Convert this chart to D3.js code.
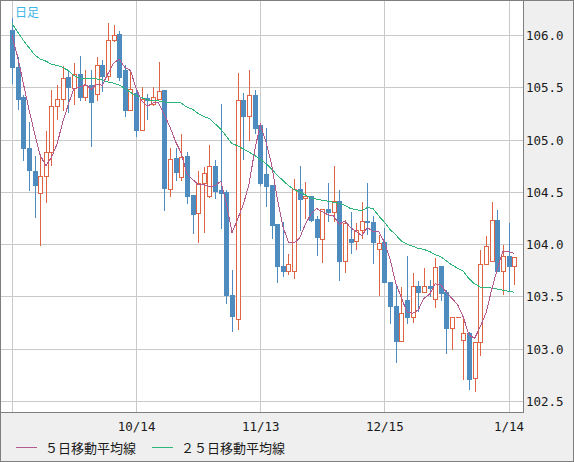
<!DOCTYPE html>
<html><head><meta charset="utf-8">
<script src="https://cdn.jsdelivr.net/npm/d3@7"></script>
<style>
html,body{margin:0;padding:0;background:#fff;}
svg{display:block;}
</style></head>
<body>
<svg id="chart" width="574" height="462"></svg>
<script>
// trading days (2020-09-14 .. 2021-01-15)
const dates = ["9/14","9/15","9/16","9/17","9/18","9/21","9/22","9/23","9/24","9/25","9/28","9/29","9/30",
"10/1","10/2","10/5","10/6","10/7","10/8","10/9","10/12","10/13","10/14","10/15","10/16","10/19","10/20","10/21","10/22","10/23","10/26","10/27","10/28","10/29","10/30",
"11/2","11/3","11/4","11/5","11/6","11/9","11/10","11/11","11/12","11/13","11/16","11/17","11/18","11/19","11/20","11/23","11/24","11/25","11/26","11/27","11/30",
"12/1","12/2","12/3","12/4","12/7","12/8","12/9","12/10","12/11","12/14","12/15","12/16","12/17","12/18","12/21","12/22","12/23","12/24","12/25","12/28","12/29","12/30","12/31",
"1/1","1/4","1/5","1/6","1/7","1/8","1/11","1/12","1/13","1/14","1/15"];

const open = [106.05,105.69,105.41,104.92,104.70,104.49,104.65,104.88,105.32,105.39,105.60,105.49,105.63,105.41,105.52,105.44,105.71,105.61,105.95,106.01,
105.67,105.28,105.45,105.09,105.40,105.34,105.39,105.47,104.53,104.82,104.64,104.84,104.47,104.30,104.58,104.46,104.75,104.52,104.50,103.51,
103.28,105.38,105.23,105.43,105.14,104.67,104.57,104.19,103.79,103.74,103.74,104.53,104.44,104.46,104.24,104.05,104.34,104.31,104.41,103.84,
104.05,104.03,104.14,104.22,104.21,103.95,104.02,103.64,103.41,103.07,103.47,103.30,103.60,103.54,103.60,103.48,103.79,103.54,103.20,103.30,
103.08,103.15,102.72,103.06,103.81,103.84,104.23,103.74,103.89,103.79];
const high = [106.16,105.79,105.43,105.17,104.84,104.84,105.08,105.47,105.52,105.70,105.67,105.73,105.80,105.67,105.67,105.79,105.76,106.11,106.10,106.04,
105.71,105.67,105.49,105.50,105.44,105.50,105.74,105.47,104.92,104.92,105.05,104.88,104.47,104.70,104.74,104.95,104.80,105.34,104.52,103.75,
105.64,105.45,105.67,105.47,105.15,105.11,104.57,104.19,104.21,103.91,104.62,104.75,104.59,104.46,104.27,104.34,104.58,104.75,104.52,104.23,
104.31,104.20,104.40,104.58,104.27,104.09,104.15,103.64,103.60,103.59,103.89,103.72,103.65,103.77,103.66,103.87,103.79,103.56,103.30,103.30,
103.31,103.16,103.06,103.94,104.08,104.40,104.33,103.99,104.20,103.88];
const low = [105.54,105.29,104.80,104.52,104.26,103.99,104.40,104.76,105.20,105.28,105.26,105.34,105.38,105.38,104.94,105.38,105.46,105.57,105.94,105.57,
105.23,105.28,105.03,105.09,105.20,105.33,105.39,104.33,104.46,104.61,104.61,104.39,104.11,104.02,104.12,104.45,104.44,104.15,103.44,103.17,
103.19,104.81,105.00,105.06,104.57,104.36,104.06,103.64,103.70,103.71,103.68,104.14,104.25,104.22,103.90,103.83,104.22,104.22,103.66,103.73,
103.92,103.95,104.06,104.10,103.82,103.51,103.64,103.25,102.87,103.07,103.25,103.26,103.36,103.54,103.50,103.40,103.47,102.96,103.00,103.30,
102.71,102.61,102.60,102.94,103.81,103.84,103.74,103.52,103.55,103.62];
const close = [105.69,105.39,104.92,104.71,104.57,104.65,104.88,105.32,105.39,105.59,105.50,105.63,105.41,105.52,105.36,105.71,105.61,105.95,106.00,105.60,
105.28,105.48,105.09,105.39,105.38,105.41,105.46,104.54,104.81,104.69,104.83,104.46,104.29,104.58,104.68,104.75,104.51,104.49,103.51,103.31,
105.38,105.23,105.43,105.11,104.58,104.56,104.18,103.79,103.74,103.81,104.53,104.43,104.46,104.23,104.07,104.34,104.31,104.41,103.84,104.20,
104.02,104.14,104.22,104.21,104.02,104.01,103.64,103.41,103.07,103.34,103.30,103.60,103.54,103.60,103.58,103.78,103.53,103.20,103.30,103.30,
103.15,102.71,103.06,103.81,103.98,104.23,103.74,103.89,103.79,103.88];

// moving averages
const ma5 = [106.00,105.79,105.54,105.29,105.06,104.85,104.75,104.83,104.96,105.17,105.34,105.49,105.50,105.53,105.48,105.53,105.52,105.63,105.73,105.77,
105.69,105.66,105.49,105.37,105.32,105.35,105.35,105.24,105.12,104.98,104.87,104.67,104.62,104.57,104.57,104.55,104.56,104.60,104.39,104.11,
104.24,104.38,104.57,104.89,105.15,104.98,104.77,104.44,104.17,104.02,104.01,104.06,104.19,104.29,104.34,104.31,104.28,104.27,104.19,104.22,
104.16,104.12,104.08,104.16,104.12,104.12,104.02,103.86,103.63,103.49,103.35,103.34,103.37,103.48,103.52,103.62,103.61,103.54,103.48,103.42,
103.30,103.13,103.10,103.21,103.34,103.56,103.76,103.93,103.93,103.91];
const ma25 = [106.11,106.03,105.95,105.88,105.81,105.77,105.75,105.72,105.71,105.69,105.66,105.61,105.59,105.58,105.58,105.58,105.57,105.55,105.54,105.52,
105.49,105.45,105.42,105.40,105.38,105.37,105.37,105.36,105.35,105.35,105.35,105.31,105.29,105.25,105.22,105.20,105.15,105.10,105.03,104.96,
104.94,104.91,104.88,104.85,104.81,104.77,104.72,104.66,104.61,104.56,104.52,104.50,104.47,104.44,104.43,104.42,104.41,104.40,104.39,104.37,
104.34,104.33,104.32,104.35,104.34,104.27,104.21,104.14,104.09,104.03,104.00,103.98,103.96,103.95,103.93,103.90,103.88,103.84,103.80,103.77,
103.74,103.67,103.62,103.59,103.59,103.58,103.57,103.56,103.55,103.54];

const yTicks = [102.5,103.0,103.5,104.0,104.5,105.0,105.5,106.0];
const xTickDates = ["9/14","10/14","11/13","12/15","1/14"];
const xLabelDates = ["10/14","11/13","12/15","1/14"];
const legendLabels = ["５日移動平均線","２５日移動平均線"];
const titleText = "日足";

const C = {red:"#df6444", blue:"#4e8cc0", ma5:"#b4598e", ma25:"#2db57a", grid:"#c9c9c9", frame:"#7f7f7f", bg:"#efefef", text:"#1a1a1a", title:"#3db6e8"};
const plot = {l:1, t:1, r:523, b:412};

const svg = d3.select("#chart");
svg.append("rect").attr("x",0.5).attr("y",0.5).attr("width",573).attr("height",461)
  .attr("fill",C.bg).attr("stroke",C.frame);
svg.append("rect").attr("x",plot.l).attr("y",plot.t).attr("width",plot.r-plot.l).attr("height",plot.b-plot.t).attr("fill","#fff");

const x = d3.scaleLinear().domain([0,88]).range([12,508.5]);
const y = d3.scaleLinear().domain([102.5,106.0]).range([401,35]);

svg.append("defs").append("clipPath").attr("id","pc").append("rect")
  .attr("x",plot.l).attr("y",plot.t).attr("width",plot.r-plot.l).attr("height",plot.b-plot.t);

const g = svg.append("g").attr("clip-path","url(#pc)");

// grid
g.selectAll("line.hg").data(yTicks).join("line").attr("class","hg")
  .attr("x1",plot.l).attr("x2",plot.r)
  .attr("y1",d=>Math.round(y(d))+0.5).attr("y2",d=>Math.round(y(d))+0.5)
  .attr("stroke",C.grid).attr("stroke-width",1);
g.selectAll("line.vg").data(xTickDates).join("line").attr("class","vg")
  .attr("y1",plot.t).attr("y2",plot.b)
  .attr("x1",d=>Math.round(x(dates.indexOf(d)))+0.5).attr("x2",d=>Math.round(x(dates.indexOf(d)))+0.5)
  .attr("stroke",C.grid).attr("stroke-width",1);

// candles
const idx = d3.range(dates.length);
const cg = g.append("g");
const cand = cg.selectAll("g.c").data(idx).join("g").attr("class","c");
cand.append("line")
  .attr("x1",i=>Math.round(x(i))+0.5).attr("x2",i=>Math.round(x(i))+0.5)
  .attr("y1",i=>Math.round(y(high[i]))).attr("y2",i=>Math.round(y(low[i]))+1)
  .attr("stroke",i=>close[i]>=open[i]?C.red:C.blue).attr("stroke-width",1)
  .attr("shape-rendering","crispEdges");
cand.each(function(i){
  const sel = d3.select(this);
  const top = Math.round(y(Math.max(open[i],close[i])));
  const bot = Math.round(y(Math.min(open[i],close[i])));
  const cx = Math.round(x(i));
  if (close[i] >= open[i]) {
    if (bot - top < 2) {
      sel.append("rect").attr("x",cx-2).attr("y",top).attr("width",5).attr("height",Math.max(1,bot-top+1))
        .attr("fill",C.red).attr("shape-rendering","crispEdges");
    } else {
      sel.append("rect").attr("x",cx-1.5).attr("y",top+0.5).attr("width",4).attr("height",bot-top)
        .attr("fill","#fff").attr("stroke",C.red).attr("stroke-width",1).attr("shape-rendering","crispEdges");
    }
  } else {
    sel.append("rect").attr("x",cx-2).attr("y",top).attr("width",5).attr("height",Math.max(1,bot-top+1))
      .attr("fill",C.blue).attr("shape-rendering","crispEdges");
  }
});

// moving averages
const line = arr => d3.line().x((d,i)=>x(i)).y(d=>y(d))(arr);
g.append("path").attr("d",line(ma25)).attr("fill","none").attr("stroke",C.ma25).attr("stroke-width",1).attr("shape-rendering","crispEdges");
g.append("path").attr("d",line(ma5)).attr("fill","none").attr("stroke",C.ma5).attr("stroke-width",1).attr("shape-rendering","crispEdges");

// frame of plot
svg.append("line").attr("x1",plot.r+0.5).attr("x2",plot.r+0.5).attr("y1",0).attr("y2",plot.b+1).attr("stroke",C.frame);
svg.append("line").attr("x1",0).attr("x2",plot.r+1).attr("y1",plot.b+0.5).attr("y2",plot.b+0.5).attr("stroke",C.frame);

// title
svg.append("text").attr("x",15).attr("y",11).attr("dominant-baseline","central")
  .attr("font-family","'Noto Sans CJK JP'").attr("font-size",12).attr("fill",C.title).text(titleText);

// y labels
svg.selectAll("text.yl").data(yTicks).join("text").attr("class","yl")
  .attr("x",526).attr("y",d=>y(d)+0.5).attr("dominant-baseline","central")
  .attr("font-family","'DejaVu Sans Mono'").attr("font-size",12.5).attr("fill",C.text)
  .text(d=>d3.format(".1f")(d));

// x labels
svg.selectAll("text.xl").data(xLabelDates).join("text").attr("class","xl")
  .attr("x",d=>x(dates.indexOf(d))+0.5).attr("y",426).attr("dominant-baseline","central").attr("text-anchor","middle")
  .attr("font-family","'DejaVu Sans Mono'").attr("font-size",12.5).attr("fill",C.text).text(d=>d);

// legend
const lg = [{t:legendLabels[0],c:C.ma5,x:16},{t:legendLabels[1],c:C.ma25,x:152}];
const leg = svg.selectAll("g.lg").data(lg).join("g").attr("class","lg");
leg.append("line").attr("x1",d=>d.x).attr("x2",d=>d.x+21).attr("y1",447.5).attr("y2",447.5).attr("stroke",d=>d.c);
leg.append("text").attr("x",d=>d.x+29).attr("y",447.5).attr("dominant-baseline","central")
  .attr("font-family","'Noto Sans CJK JP'").attr("font-size",13).attr("fill",C.text).text(d=>d.t);
</script>
</body></html>
